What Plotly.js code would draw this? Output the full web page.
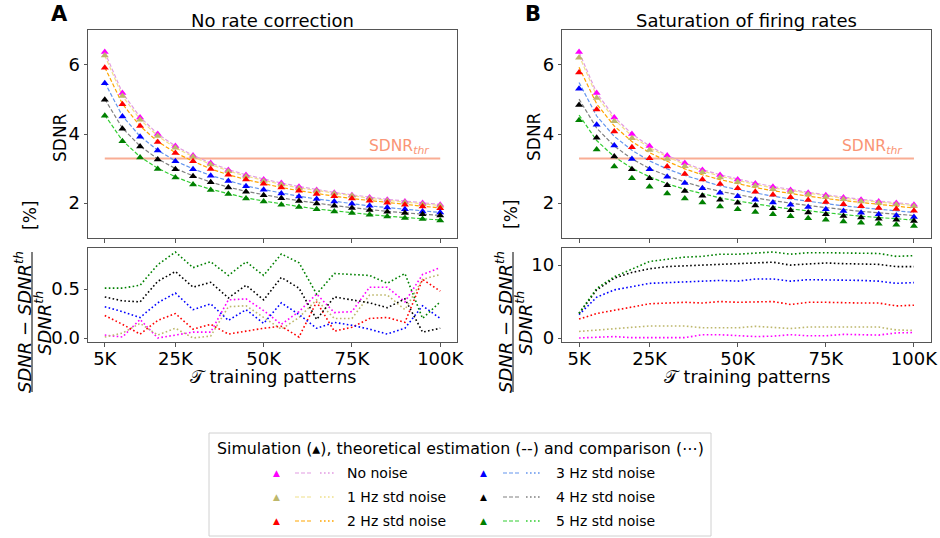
<!DOCTYPE html>
<html>
<head>
<meta charset="utf-8">
<script src="https://cdn.plot.ly/plotly-3.0.1.min.js"></script>
<style>html,body{margin:0;padding:0;background:#fff}#chart{width:940px;height:538px}</style>
</head>
<body>
<div id="chart"></div>
<script>
// ---------------- data ----------------
const trainingPatterns = [5000,10000,15000,20000,25000,30000,35000,40000,45000,50000,55000,60000,65000,70000,75000,80000,85000,90000,95000,100000];
const xTickVals = [5000,25000,50000,75000,100000];
const xTickText = ['5K','25K','50K','75K','100K'];
const noiseLabels = ['No noise','1 Hz std noise','2 Hz std noise','3 Hz std noise','4 Hz std noise','5 Hz std noise'];
const sdnrThreshold = 3.29;

// theoretical estimation (dashed), per noise level
const theory0 = [6.37,5.19,4.49,4.00,3.65,3.38,3.16,2.97,2.82,2.69,2.58,2.48,2.39,2.31,2.24,2.17,2.11,2.06,2.01,1.96];
const theory1 = [6.27,5.10,4.42,3.94,3.60,3.34,3.12,2.93,2.78,2.65,2.54,2.44,2.36,2.28,2.21,2.14,2.08,2.03,1.98,1.93];
const theory2 = [5.93,4.87,4.23,3.78,3.46,3.21,2.99,2.82,2.68,2.56,2.45,2.36,2.27,2.20,2.13,2.07,2.01,1.95,1.91,1.86];
const theory3 = [5.49,4.52,3.93,3.53,3.22,2.99,2.80,2.64,2.50,2.39,2.29,2.20,2.12,2.05,1.98,1.92,1.87,1.82,1.77,1.73];
const theory4 = [5.01,4.17,3.65,3.28,3.00,2.79,2.61,2.46,2.34,2.24,2.15,2.07,1.99,1.93,1.87,1.81,1.76,1.72,1.68,1.64];
const theory5 = [4.55,3.81,3.34,3.01,2.76,2.56,2.40,2.27,2.15,2.06,1.97,1.90,1.83,1.77,1.72,1.67,1.62,1.58,1.54,1.51];

// panel A: simulation, no rate correction
const simA0 = [6.37,5.19,4.48,4.00,3.65,3.38,3.16,2.96,2.81,2.68,2.58,2.47,2.38,2.30,2.23,2.16,2.10,2.05,2.00,1.95];
const simA1 = [6.27,5.10,4.41,3.94,3.60,3.34,3.12,2.92,2.77,2.64,2.54,2.43,2.35,2.28,2.21,2.13,2.07,2.02,1.97,1.92];
const simA2 = [5.92,4.86,4.23,3.77,3.45,3.21,2.99,2.82,2.68,2.56,2.45,2.36,2.26,2.20,2.13,2.07,2.01,1.95,1.90,1.85];
const simA3 = [5.47,4.51,3.92,3.52,3.21,2.98,2.79,2.64,2.49,2.39,2.28,2.19,2.12,2.05,1.98,1.92,1.87,1.82,1.76,1.73];
const simA4 = [4.99,4.15,3.64,3.26,2.98,2.78,2.60,2.45,2.33,2.23,2.14,2.06,1.99,1.92,1.86,1.80,1.75,1.71,1.68,1.64];
const simA5 = [4.53,3.79,3.32,2.99,2.74,2.54,2.38,2.26,2.13,2.05,1.95,1.89,1.82,1.76,1.71,1.66,1.61,1.57,1.54,1.50];

// panel A: comparison [%]
const diffA0 = [0.03,0.01,0.19,0.00,0.03,0.06,0.06,0.39,0.40,0.28,0.14,0.27,0.45,0.26,0.27,0.52,0.52,0.37,0.65,0.72];
const diffA1 = [0.01,0.05,0.15,0.03,0.10,0.00,0.02,0.32,0.33,0.21,0.09,0.21,0.39,0.20,0.20,0.44,0.44,0.29,0.60,0.65];
const diffA2 = [0.23,0.14,0.04,0.18,0.25,0.09,0.14,0.04,0.07,0.10,0.12,0.01,0.37,0.07,0.11,0.20,0.21,0.16,0.60,0.48];
const diffA3 = [0.32,0.27,0.21,0.36,0.46,0.29,0.35,0.18,0.29,0.15,0.36,0.24,0.10,0.16,0.13,0.09,0.04,0.10,0.33,0.20];
const diffA4 = [0.42,0.38,0.37,0.58,0.68,0.52,0.57,0.41,0.54,0.39,0.62,0.51,0.19,0.42,0.39,0.36,0.31,0.40,0.06,0.10];
const diffA5 = [0.51,0.51,0.54,0.75,0.88,0.72,0.78,0.64,0.78,0.64,0.86,0.77,0.45,0.66,0.65,0.64,0.56,0.66,0.20,0.37];

// panel B: simulation, saturation of firing rates
const simB0 = [6.37,5.19,4.48,4.00,3.65,3.38,3.16,2.96,2.81,2.68,2.57,2.47,2.38,2.30,2.23,2.16,2.10,2.05,2.00,1.95];
const simB1 = [6.21,5.04,4.37,3.88,3.54,3.28,3.07,2.89,2.74,2.61,2.50,2.40,2.33,2.25,2.18,2.11,2.05,2.00,1.96,1.91];
const simB2 = [5.78,4.71,4.07,3.62,3.30,3.06,2.84,2.68,2.55,2.43,2.33,2.24,2.17,2.09,2.03,1.97,1.91,1.86,1.83,1.78];
const simB3 = [5.31,4.27,3.67,3.28,2.98,2.76,2.58,2.43,2.30,2.20,2.10,2.02,1.95,1.89,1.82,1.77,1.72,1.68,1.64,1.60];
const simB4 = [4.84,3.89,3.35,2.98,2.72,2.52,2.35,2.21,2.10,2.01,1.93,1.85,1.79,1.73,1.68,1.63,1.58,1.55,1.52,1.48];
const simB5 = [4.40,3.55,3.06,2.72,2.47,2.28,2.13,2.02,1.90,1.82,1.74,1.68,1.62,1.56,1.52,1.47,1.43,1.40,1.37,1.34];

// panel B: comparison [%]
const diffB0 = [0.00,0.05,0.20,0.05,0.00,0.05,0.05,0.45,0.45,0.35,0.20,0.25,0.45,0.30,0.30,0.50,0.50,0.40,0.70,0.75];
const diffB1 = [0.90,1.10,1.20,1.50,1.65,1.65,1.65,1.40,1.40,1.40,1.60,1.50,1.30,1.50,1.50,1.40,1.40,1.50,1.10,1.05];
const diffB2 = [2.60,3.35,3.80,4.30,4.70,4.80,4.90,4.80,5.00,4.90,5.00,5.00,4.60,4.90,4.90,4.80,4.80,4.80,4.40,4.50];
const diffB3 = [3.20,5.60,6.60,7.00,7.50,7.60,7.70,7.80,7.90,7.80,8.10,8.10,7.80,8.00,8.00,8.00,7.90,7.80,7.50,7.60];
const diffB4 = [3.35,6.60,8.20,9.00,9.50,9.80,9.90,10.00,10.10,10.10,10.30,10.40,10.00,10.20,10.30,10.20,10.20,10.10,9.80,9.80];
const diffB5 = [3.40,6.80,8.40,9.50,10.50,10.80,11.10,11.20,11.50,11.50,11.70,11.80,11.50,11.70,11.70,11.70,11.60,11.60,11.20,11.30];

// ---------------- styles ----------------
const simColors = ['#ff00ff','#bdb76b','#ff0000','#0000ff','#000000','#008000'];
const thColors  = ['#e29be2','#f0e08a','#ffa500','#6495ed','#808080','#32cd32'];
const thrColor = '#f9ad94';
const FONT = 'DejaVu Sans, Liberation Sans, sans-serif';
const W = 940, H = 538;
const PX = p => p / W, PY = p => 1 - p / H;

const theories = [theory0,theory1,theory2,theory3,theory4,theory5];
const simsA = [simA0,simA1,simA2,simA3,simA4,simA5];
const simsB = [simB0,simB1,simB2,simB3,simB4,simB5];
const diffsA = [diffA0,diffA1,diffA2,diffA3,diffA4,diffA5];
const diffsB = [diffB0,diffB1,diffB2,diffB3,diffB4,diffB5];

const traces = [];
function topPanel(xa, ya, sims) {
  traces.push({x:[trainingPatterns[0], trainingPatterns[trainingPatterns.length-1]], y:[sdnrThreshold, sdnrThreshold],
    xaxis:xa, yaxis:ya, mode:'lines', line:{color:thrColor, width:2}, showlegend:false, hoverinfo:'skip'});
  for (let i = 0; i < 6; i++) {
    traces.push({x:trainingPatterns, y:theories[i], xaxis:xa, yaxis:ya, mode:'lines',
      line:{color:thColors[i], width:1.2, dash:'4px,2px'}, showlegend:false});
  }
  for (let i = 0; i < 6; i++) {
    traces.push({x:trainingPatterns, y:sims[i], xaxis:xa, yaxis:ya, mode:'markers',
      marker:{symbol:'triangle-up', size:7, color:simColors[i], line:{width:0}}, showlegend:false});
  }
}
function bottomPanel(xa, ya, diffs) {
  for (let i = 0; i < 6; i++) {
    traces.push({x:trainingPatterns, y:diffs[i], xaxis:xa, yaxis:ya, mode:'lines',
      line:{color:simColors[i], width:1.6, dash:'1.6px,2.4px'}, showlegend:false});
  }
}
topPanel('x','y',simsA);
bottomPanel('x2','y2',diffsA);
topPanel('x3','y3',simsB);
bottomPanel('x4','y4',diffsB);

const axisBase = {showgrid:false, zeroline:false, showline:true, mirror:true, linecolor:'#555', linewidth:1,
  ticks:'outside', ticklen:3.5, tickwidth:1, tickcolor:'#555', tickfont:{size:18, color:'#000', family:FONT}};
const xRange = [250, 104750];
const xL = [PX(88), PX(457)], xR = [PX(562.3), PX(930.7)];
const yT = [PY(238), PY(30)], yB = [PY(342.3), PY(247.7)];

const layout = {
  width:W, height:H, margin:{l:0,r:0,t:0,b:0}, paper_bgcolor:'#fff', plot_bgcolor:'#fff',
  font:{family:FONT, size:18, color:'#000'}, showlegend:false,
  xaxis: Object.assign({}, axisBase, {domain:xL, anchor:'y', range:xRange, tickvals:xTickVals, ticktext:xTickText, showticklabels:false}),
  yaxis: Object.assign({}, axisBase, {domain:yT, anchor:'x', range:[0.99,7.01], tickvals:[2,4,6]}),
  xaxis2: Object.assign({}, axisBase, {domain:xL, anchor:'y2', range:xRange, tickvals:xTickVals, ticktext:xTickText, ticklabelstandoff:-3}),
  yaxis2: Object.assign({}, axisBase, {domain:yB, anchor:'x2', range:[-0.044,0.924], tickvals:[0,0.5], ticktext:['0.0','0.5']}),
  xaxis3: Object.assign({}, axisBase, {domain:xR, anchor:'y3', range:xRange, tickvals:xTickVals, ticktext:xTickText, showticklabels:false}),
  yaxis3: Object.assign({}, axisBase, {domain:yT, anchor:'x3', range:[0.99,7.01], tickvals:[2,4,6]}),
  xaxis4: Object.assign({}, axisBase, {domain:xR, anchor:'y4', range:xRange, tickvals:xTickVals, ticktext:xTickText, ticklabelstandoff:-3}),
  yaxis4: Object.assign({}, axisBase, {domain:yB, anchor:'x4', range:[-0.59,12.39], tickvals:[0,10], ticktext:['0','10']}),
  annotations: [], shapes: []
};
const ann = layout.annotations, shp = layout.shapes;
function txt(x, y, text, opts) {
  ann.push(Object.assign({xref:'paper', yref:'paper', x:PX(x), y:PY(y), text:text, showarrow:false,
    xanchor:'center', yanchor:'middle', font:{size:18, color:'#000', family:FONT}}, opts || {}));
}
// panel letters and titles
txt(60, 14, '<b>A</b>', {font:{size:21, family:FONT, color:'#000'}});
txt(533, 14, '<b>B</b>', {font:{size:21, family:FONT, color:'#000'}});
txt(272.5, 20, 'No rate correction');
txt(746.5, 20, 'Saturation of firing rates');
// y labels (top)
txt(60, 137, 'SDNR', {textangle:-90, font:{size:17, color:'#000', family:FONT}});
txt(534, 137, 'SDNR', {textangle:-90, font:{size:17, color:'#000', family:FONT}});
// y labels (bottom) : fraction [%]
[0, 481].forEach(dx => {
  txt(30 + dx, 215, '[%]', {textangle:-90, font:{size:17, color:'#000', family:FONT}});
  txt(23 + dx, 322, '<i>SDNR − SDNR<sup>th</sup></i>', {textangle:-90});
  txt(43 + dx, 323, '<i>SDNR<sup>th</sup></i>', {textangle:-90});
  shp.push({type:'line', xref:'paper', yref:'paper', x0:PX(32 + dx), x1:PX(32 + dx), y0:PY(252), y1:PY(392), line:{color:'#000', width:1}});
});
// x labels
txt(272.5, 377, '𝒯 training patterns', {font:{size:17.5, color:'#000', family:FONT}});
txt(746.5, 377, '𝒯 training patterns', {font:{size:17.5, color:'#000', family:FONT}});
// threshold labels
[['x','y'],['x3','y3']].forEach(([xa, ya]) => {
  ann.push({xref:xa, yref:ya, x:97600, y:sdnrThreshold, text:'SDNR<sub><i>thr</i></sub>', showarrow:false,
    xanchor:'right', yanchor:'bottom', yshift:0, font:{size:15.5, color:'#fa9575', family:FONT}});
});
// custom legend
shp.push({type:'rect', xref:'paper', yref:'paper', x0:PX(209), x1:PX(711), y0:PY(536), y1:PY(433),
  line:{color:'#d0d0d0', width:1}, fillcolor:'rgba(255,255,255,0.8)', layer:'below'});
txt(460, 448, 'Simulation (▴), theoretical estimation (--) and comparison (⋯)', {font:{size:15.8, color:'#000', family:FONT}});
const rowsY = [473, 497, 521];
const colsX = [[276, 295, 320, 345], [484, 503, 526, 554]];
for (let i = 0; i < 6; i++) {
  const c = colsX[Math.floor(i / 3)], ry = rowsY[i % 3];
  txt(c[0], ry, '▲', {font:{size:9, color:simColors[i], family:FONT}});
  shp.push({type:'line', xref:'paper', yref:'paper', x0:PX(c[1]), x1:PX(c[1] + 17), y0:PY(ry), y1:PY(ry),
    line:{color:thColors[i], width:1.2, dash:'4px,2px'}});
  shp.push({type:'line', xref:'paper', yref:'paper', x0:PX(c[2]), x1:PX(c[2] + 14), y0:PY(ry), y1:PY(ry),
    line:{color:thColors[i], width:1.6, dash:'1.6px,2.4px'}});
  txt(c[3], ry, noiseLabels[i], {xanchor:'left', font:{size:14, color:'#000', family:FONT}});
}
Plotly.newPlot('chart', traces, layout, {staticPlot:true, displayModeBar:false});
</script>
</body>
</html>
